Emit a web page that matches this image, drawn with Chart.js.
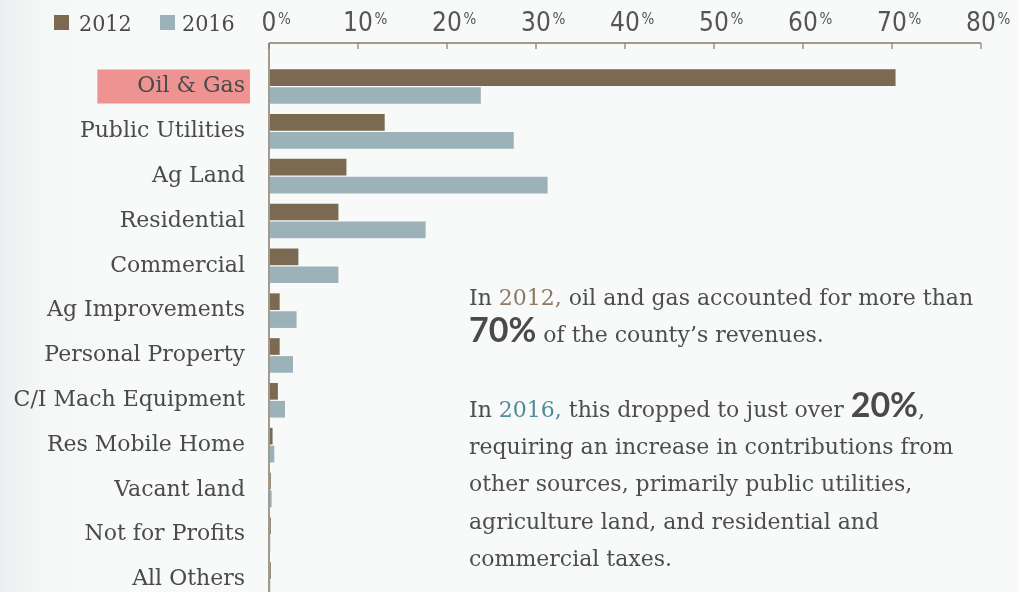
<!DOCTYPE html>
<html>
<head>
<meta charset="utf-8">
<script src="https://cdn.jsdelivr.net/npm/chart.js@4/dist/chart.umd.min.js"></script>
<style>
  html, body { margin: 0; padding: 0; width: 1018px; height: 592px; overflow: hidden; }
  body { background: linear-gradient(to right, #eceef0 0px, #f5f7f7 40px, #f8fafa 110px, #f8fafa 100%); position: relative; }
  #c { position: absolute; left: 0; top: 0; width: 1018px; height: 602px; }
  #note { position: absolute; left: 469px; top: 279px; font-family: "DejaVu Serif", serif; font-size: 22px;
          color: #4d4d4d; line-height: 37.3px; white-space: nowrap; }
  #note .y12 { color: #8c7a62; }
  #note .y16 { color: #4f8b99; }
  #note .big { font-family: Lato, "DejaVu Sans", sans-serif; font-weight: 700; font-size: 34px; line-height: 0; color: #4a4a4a; }
</style>
</head>
<body>
<canvas id="c" width="1018" height="602"></canvas>
<div id="note">In <span class="y12">2012,</span> oil and gas accounted for more than<br><span class="big">70%</span> of the county’s revenues.<br><br>In <span class="y16">2016,</span> this dropped to just over <span class="big">20%</span>,<br>requiring an increase in contributions from<br>other sources, primarily public utilities,<br>agriculture land, and residential and<br>commercial taxes.</div>
<script>
const categories = ["Oil & Gas", "Public Utilities", "Ag Land", "Residential", "Commercial",
  "Ag Improvements", "Personal Property", "C/I Mach Equipment", "Res Mobile Home",
  "Vacant land", "Not for Profits", "All Others"];
const values2012 = [70.4, 13.0, 8.7, 7.8, 3.3, 1.2, 1.2, 1.0, 0.4, 0.2, 0.2, 0.2];
const values2016 = [23.8, 27.5, 31.3, 17.6, 7.8, 3.1, 2.7, 1.8, 0.6, 0.3, 0.15, 0.15];
const seriesNames = ["2012", "2016"];
const xTickValues = [0, 10, 20, 30, 40, 50, 60, 70, 80];

const BROWN = "#7b6a51";
const BLUE = "#9ab2b8";
const TEXT = "#4a4a4a";
const LABEL_FONT = '22px "DejaVu Serif", serif';

const decorPlugin = {
  id: "decor",
  beforeDraw(chart) {
    const { ctx, scales: { y }, chartArea } = chart;
    ctx.save();
    ctx.font = LABEL_FONT;
    const w = ctx.measureText(categories[0]).width;
    const textRight = chartArea.left - 24;
    const left = textRight - w - 40;
    const right = chartArea.left - 19;
    const cy = y.getPixelForValue(0);
    ctx.fillStyle = "#ee9391";
    ctx.fillRect(left, cy - 17, right - left, 34);
    ctx.restore();
  },
  afterDraw(chart) {
    const { ctx, scales: { x }, chartArea } = chart;
    ctx.save();
    const axisY = 43;
    const x0 = x.getPixelForValue(xTickValues[0]);
    const x1 = x.getPixelForValue(xTickValues[xTickValues.length - 1]);
    ctx.strokeStyle = "#a39a8e";
    ctx.lineWidth = 2;
    ctx.beginPath();
    ctx.moveTo(x0, axisY);
    ctx.lineTo(x0, chartArea.bottom);
    ctx.stroke();
    ctx.strokeStyle = "#8a7b66";
    ctx.lineWidth = 1.5;
    ctx.beginPath();
    ctx.moveTo(x0, axisY);
    ctx.lineTo(x1, axisY);
    ctx.stroke();
    xTickValues.forEach(v => {
      const px = x.getPixelForValue(v);
      ctx.strokeStyle = "#8a7b66";
      ctx.lineWidth = 1.2;
      ctx.beginPath();
      ctx.moveTo(px, axisY);
      ctx.lineTo(px, axisY + 6);
      ctx.stroke();
      const num = String(v);
      ctx.fillStyle = "#555555";
      ctx.font = '26px "Liberation Sans Narrow", "DejaVu Sans Condensed", sans-serif';
      ctx.textAlign = "center";
      ctx.textBaseline = "alphabetic";
      ctx.fillText(num, px, 31);
      const nw = ctx.measureText(num).width;
      ctx.font = '15px "Liberation Sans Narrow", "DejaVu Sans Condensed", sans-serif';
      ctx.textAlign = "left";
      ctx.fillText("%", px + nw / 2 + 1.5, 24);
    });
    const items = [[54, 79], [160, 182]];
    chart.data.datasets.forEach((ds, i) => {
      const [sx, tx] = items[i];
      ctx.fillStyle = ds.backgroundColor;
      ctx.fillRect(sx, 15, 15, 15);
      ctx.fillStyle = TEXT;
      ctx.font = '23px "DejaVu Serif Condensed", "DejaVu Serif", serif';
      ctx.textAlign = "left";
      ctx.textBaseline = "alphabetic";
      ctx.fillText(ds.label, tx, 31);
    });
    ctx.restore();
  }
};

new Chart(document.getElementById("c"), {
  type: "bar",
  data: {
    labels: categories,
    datasets: [
      { label: seriesNames[0], data: values2012, backgroundColor: BROWN, borderWidth: 0 },
      { label: seriesNames[1], data: values2016, backgroundColor: BLUE, borderWidth: 0 }
    ]
  },
  options: {
    indexAxis: "y",
    responsive: false,
    maintainAspectRatio: false,
    animation: false,
    devicePixelRatio: 1,
    layout: { padding: { top: 64.1, right: 37, bottom: 0, left: 0 } },
    datasets: { bar: { categoryPercentage: 0.8, barPercentage: 0.93 } },
    plugins: { legend: { display: false }, tooltip: { enabled: false } },
    scales: {
      x: { type: "linear", min: 0, max: 80, display: false },
      y: {
        type: "category",
        afterFit(s) { s.width = 269; s.paddingBottom = 0; s.paddingTop = 0; },
        grid: { display: false, drawTicks: true, tickLength: 24 },
        border: { display: false },
        ticks: { color: TEXT, font: { family: '"DejaVu Serif", serif', size: 22 }, padding: 0, autoSkip: false }
      }
    }
  },
  plugins: [decorPlugin]
});
</script>
</body>
</html>
